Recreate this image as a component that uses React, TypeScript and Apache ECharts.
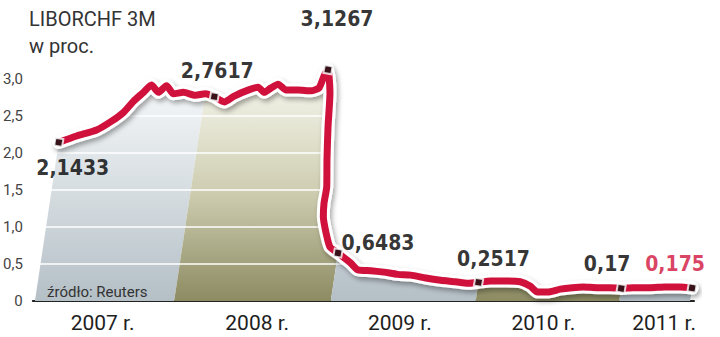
import React, { useEffect, useRef } from 'react';
import * as echarts from 'echarts';

// x = months since January 2007, y = LIBOR CHF 3M in %
const lineMonths = [
  0, 1.38, 2.92, 4.08, 5.0, 5.77, 6.54, 7.15, 7.69, 8.31, 8.85, 9.62, 10.54, 11.3, 12,
  12.77, 13.54, 14.6, 15.38, 15.85, 16.38, 16.92, 17.54, 18.46, 19.46, 20.08, 20.46, 20.77,
  20.92, 20.77, 20.69, 20.67, 20.46, 20.41, 20.62, 20.92, 21.54,
  22.54, 23.08, 24.08, 25.08, 26.15, 27.15, 28.31, 29.46, 30.62, 31.54, 32.38,
  33.3, 34.46, 35.6, 36.38, 36.92, 37.69, 38.69, 39.6, 40.46, 41.54, 42.54, 43.38,
  44.3, 45.6, 46.77, 47.92, 48.85,
];
const lineValues = [
  2.1433, 2.23, 2.31, 2.43, 2.55, 2.7, 2.82, 2.92, 2.82, 2.91, 2.8, 2.82, 2.78, 2.8, 2.7617,
  2.69, 2.77, 2.85, 2.89, 2.82, 2.88, 2.93, 2.85, 2.85, 2.84, 2.88, 3.04, 3.1267,
  2.81, 2.35, 1.91, 1.54, 1.32, 1.14, 0.92, 0.73, 0.6483,
  0.51, 0.42, 0.41, 0.39, 0.36, 0.35, 0.31, 0.28, 0.26, 0.24, 0.2517,
  0.27, 0.27, 0.26, 0.2, 0.12, 0.12, 0.16, 0.18, 0.19, 0.18, 0.18, 0.17,
  0.18, 0.18, 0.19, 0.19, 0.175,
];
const markerIndex = [0, 14, 27, 36, 47, 59, 64];
const markerLabels = ['2,1433', '2,7617', '3,1267', '0,6483', '0,2517', '0,17', '0,175'];

const yearLabels = ['2007 r.', '2008 r.', '2009 r.', '2010 r.', '2011 r.'];
const yearLabelMonths = [3.38, 15.31, 26.31, 37.38, 46.69];
const yTicks = [0, 0.5, 1, 1.5, 2, 2.5, 3];

// background bands (by line point index)
const bandEdges = [0, 13, 36, 47, 59, 64];
const bandKinds = [0, 1, 0, 1, 0];

// ---- styling ----
const BAND_COLORS = [
  ['#f7f9fa', '#d6dde1', '#b4bfc6'],
  ['#f5f5ec', '#cfceb2', '#8c8b62'],
];
const SLANT = 0.15;
const LABEL_OFFSETS = [
  [14, 26], [3, -26], [9, -51], [40, -10], [15, -23], [-14, -24], [-17, -24],
];
const RED = '#d0113b';
const FONT = 'Roboto, "Noto Sans", sans-serif';
const BOLD_FONT = '"DejaVu Sans Condensed", "DejaVu Sans", sans-serif';

export default function App() {
  const ref = useRef<HTMLDivElement>(null);
  useEffect(() => {
    if (!ref.current) return;
    const chart = echarts.init(ref.current, undefined, { renderer: 'svg' });
    const lineData = lineMonths.map((m, i) => [m, lineValues[i]]);
    const markerData = markerIndex.map((idx, i) => ({
      value: [lineMonths[idx], lineValues[idx]],
      label: {
        offset: LABEL_OFFSETS[i],
        color: i === markerIndex.length - 1 ? RED : '#000000',
      },
    }));
    const option: any = {
      animation: false,
      title: {
        text: 'LIBORCHF 3M\nw proc.',
        left: 24,
        top: 0,
        textStyle: {
          fontFamily: FONT,
          fontSize: 20,
          lineHeight: 27,
          fontWeight: 'normal',
          color: '#333333',
        },
      },
      grid: { left: 31, right: 26, top: 5, bottom: 36 },
      xAxis: {
        type: 'value',
        min: -2,
        max: 49,
        axisLine: { show: true, lineStyle: { color: '#222', width: 2 } },
        axisTick: { show: false },
        splitLine: { show: false },
        axisLabel: {
          customValues: yearLabelMonths,
          margin: 11,
          fontFamily: FONT,
          fontSize: 21,
          color: '#1e1e1e',
          formatter: (v: number) => {
            let best = 0;
            yearLabelMonths.forEach((m, i) => {
              if (Math.abs(m - v) < Math.abs(yearLabelMonths[best] - v)) best = i;
            });
            return yearLabels[best];
          },
        },
      },
      yAxis: {
        type: 'value',
        min: 0,
        max: 4,
        axisLine: { show: false },
        axisTick: { show: false },
        splitLine: { show: false },
        axisLabel: {
          customValues: yTicks,
          margin: 10,
          fontFamily: FONT,
          fontSize: 15,
          color: '#444444',
          formatter: (v: number) => (v === 0 ? '0' : v.toFixed(1).replace('.', ',')),
        },
      },
      graphic: [
        {
          type: 'text',
          left: 47,
          top: 284,
          z: 20,
          style: { text: 'źródło: Reuters', fontFamily: FONT, fontSize: 15, fill: '#333' },
        },
      ],
      series: [
        {
          type: 'custom',
          z: 1,
          clip: false,
          silent: true,
          data: bandKinds.map((_, i) => [lineMonths[bandEdges[i]], 0]),
          renderItem: (params: any, api: any) => {
            const b = params.dataIndex;
            const s = bandEdges[b];
            const e = bandEdges[b + 1];
            const y0 = api.coord([0, 0])[1];
            const yTop = api.coord([0, 3.0])[1];
            const pts: number[][] = [];
            for (let k = s; k <= e; k++) pts.push(api.coord([lineMonths[k], lineValues[k]]));
            const first = pts[0];
            const last = pts[pts.length - 1];
            pts.push([last[0] - SLANT * (y0 - last[1]), y0]);
            pts.push([first[0] - SLANT * (y0 - first[1]), y0]);
            const c = BAND_COLORS[bandKinds[b]];
            return {
              type: 'polygon',
              shape: { points: pts },
              style: {
                fill: {
                  type: 'linear',
                  x: 0,
                  y: yTop,
                  x2: 0,
                  y2: y0,
                  global: true,
                  colorStops: [
                    { offset: 0, color: c[0] },
                    { offset: 0.5, color: c[1] },
                    { offset: 1, color: c[2] },
                  ],
                },
              },
            };
          },
        },
        {
          type: 'line',
          z: 2,
          silent: true,
          data: [[0, 0]],
          showSymbol: false,
          lineStyle: { opacity: 0 },
          markLine: {
            z: 2,
            silent: true,
            symbol: 'none',
            label: { show: false },
            lineStyle: { color: '#ffffff', width: 1.5, type: 'solid' },
            data: yTicks.filter((v) => v > 0).map((v) => ({ yAxis: v })),
          },
        },
        {
          type: 'line',
          z: 10,
          clip: false,
          silent: true,
          data: lineData,
          showSymbol: false,
          smooth: 0.2,
          lineStyle: {
            color: '#ffffff',
            width: 13,
            cap: 'round',
            join: 'round',
            shadowColor: 'rgba(0,0,0,0.35)',
            shadowBlur: 5,
            shadowOffsetX: 2,
            shadowOffsetY: 3,
          },
        },
        {
          type: 'line',
          z: 11,
          clip: false,
          silent: true,
          data: lineData,
          showSymbol: false,
          smooth: 0.2,
          lineStyle: { color: RED, width: 7, cap: 'round', join: 'round' },
        },
        {
          type: 'scatter',
          z: 12,
          clip: false,
          silent: true,
          symbol: 'rect',
          symbolSize: 8,
          symbolRotate: -10,
          itemStyle: { color: '#111', borderColor: '#fff', borderWidth: 2 },
          data: markerData,
          label: {
            show: true,
            position: 'inside',
            formatter: (p: any) => markerLabels[p.dataIndex],
            fontFamily: BOLD_FONT,
            fontWeight: 'bold',
            fontSize: 21,
          },
        },
      ],
    };
    chart.setOption(option);
    return () => chart.dispose();
  }, []);
  return (
    <div
      ref={ref}
      style={{ position: 'fixed', left: 0, top: 0, width: 720, height: 337, background: '#fff' }}
    />
  );
}
